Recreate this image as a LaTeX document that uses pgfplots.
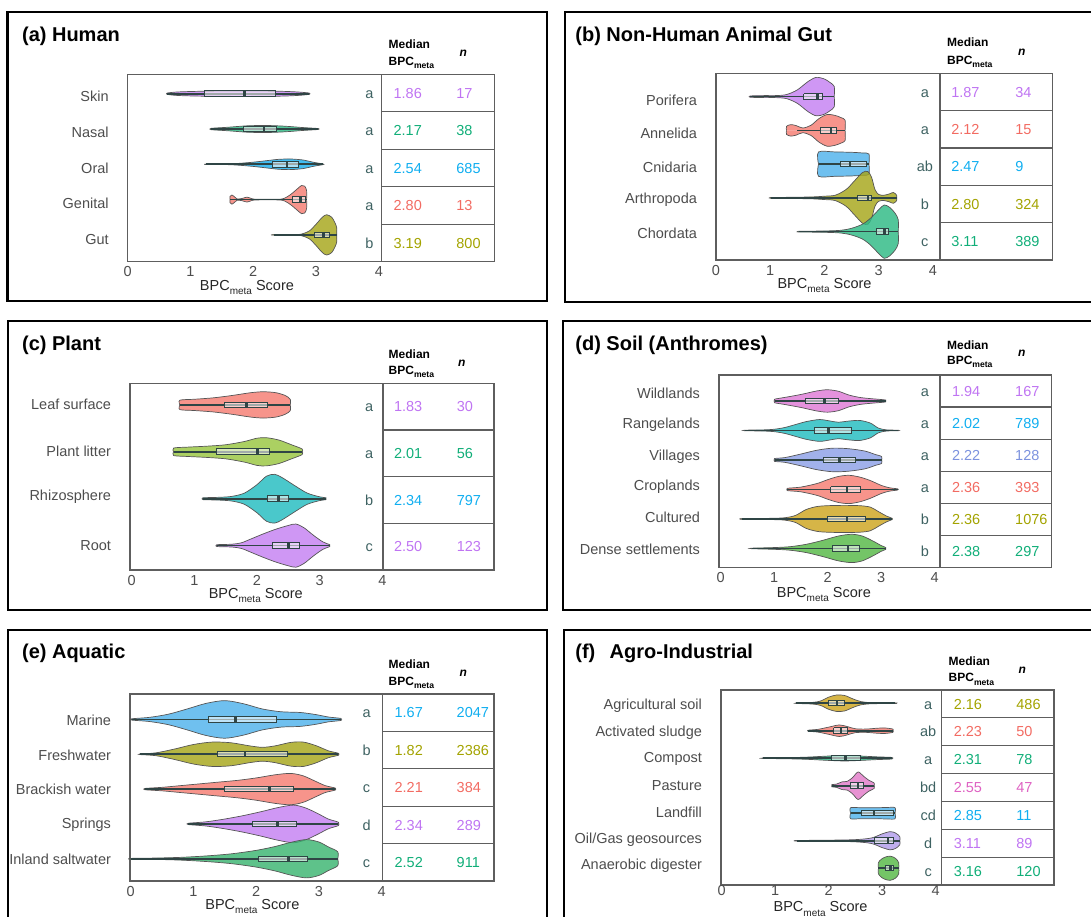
\documentclass[border=0pt]{standalone}
\usepackage{fontspec}
\setmainfont{Liberation Sans}
\usepackage{pgfplots}
\pgfplotsset{compat=1.18}

\definecolor{axgray}{HTML}{5E5E5E}
\definecolor{labgray}{HTML}{4D4D4D}
\definecolor{lettc}{HTML}{3E6262}
\definecolor{vedge}{HTML}{555555}
\definecolor{boxcol}{HTML}{2F4545}
% text colours
\definecolor{tPurple}{HTML}{BF74F2}
\definecolor{tGreen}{HTML}{10AE78}
\definecolor{tBlue}{HTML}{10AEF0}
\definecolor{tRed}{HTML}{F26B62}
\definecolor{tOlive}{HTML}{A3A300}
\definecolor{tPeri}{HTML}{7C92DE}
\definecolor{tMag}{HTML}{DE62C2}
% fills
\definecolor{fPurple}{HTML}{C580F2}
\definecolor{fGreen}{HTML}{2DBA84}
\definecolor{fBlue}{HTML}{1AAEEE}
\definecolor{fBlue2}{HTML}{4FB2EC}
\definecolor{fRed}{HTML}{F57C72}
\definecolor{fOlive}{HTML}{A6A61A}
\definecolor{fTeal}{HTML}{22BCC0}
\definecolor{fLime}{HTML}{98C640}
\definecolor{fPink}{HTML}{DE7AD6}
\definecolor{fPeri}{HTML}{8CA0E6}
\definecolor{fGold}{HTML}{CDA51E}
\definecolor{fGreen2}{HTML}{55B845}
\definecolor{fGreenE}{HTML}{3AB470}
\definecolor{fPink2}{HTML}{E27AC8}
\definecolor{fLav}{HTML}{B19CEA}

\newcommand\fs[1]{\fontsize{#1}{#1}\selectfont}
\newcommand\sub[2]{\raisebox{-0.3em}{\fs{#1}#2}}

\pgfplotsset{
  panel/.style={
    anchor=north west, scale only axis, y dir=reverse, clip=false,
    axis line style={draw=axgray, line width=0.6pt},
    tick style={draw=none}, major tick length=0pt,
    xtick={0,1,2,3,4}, xticklabels={0,1,2,3,4},
    ticklabel style={font=\fs{7.25}, text=labgray},
    xticklabel style={yshift=1pt},
    yticklabel style={xshift=-6pt},
  },
}
\tikzset{tline/.style={draw=axgray, line width=0.6pt}}

% centre, colour, first x, last x, rows "x w"
\newcommand\violin[5]{%
  \addplot[fill=#2, fill opacity=0.82, draw=vedge, line width=0.35pt, smooth, tension=0.5] table[row sep=crcr, x=x, y expr={#1-\thisrow{w}}] {x w\\#3 0\\#5\\#4 0\\};
  \addplot[fill=#2, fill opacity=0.82, draw=vedge, line width=0.35pt, smooth, tension=0.5] table[row sep=crcr, x=x, y expr={#1+\thisrow{w}}] {x w\\#3 0\\#5\\#4 0\\};
}
% centre, lower whisker, lower quartile, median, upper quartile, upper whisker
\newcommand\bx[6]{%
  \addplot[draw=boxcol, line width=0.8pt] table[row sep=crcr, x=x, y expr={#1}] {x\\#2\\#6\\};
  \addplot[draw=boxcol, fill=white, fill opacity=0.55, line width=0.5pt] table[row sep=crcr, x=x, y expr={#1+\thisrow{o}*\bh}] {x o\\#3 -1\\#5 -1\\#5 1\\#3 1\\#3 -1\\};
  \addplot[draw=boxcol, line width=1.3pt] table[row sep=crcr, x=x, y expr={#1+\thisrow{o}*\bh}] {x o\\#4 -1\\#4 1\\};
}
\newcommand\hl[1]{\draw[tline] (axis cs:\dx,#1) -- (axis cs:\xr,#1);}
\newcommand\vdiv{\draw[tline] (axis cs:\dx,\ya) -- (axis cs:\dx,\yb);}
\newcommand\trow[5]{%
  \node[anchor=base, inner sep=0pt, font=\fs{7.25}, text=lettc, yshift=-2.6pt] at (axis cs:\lx,#1) {#3};
  \node[anchor=base west, inner sep=0pt, font=\fs{7.25}, text=#2, yshift=-2.6pt] at (axis cs:\mx,#1) {#4};
  \node[anchor=base west, inner sep=0pt, font=\fs{7.25}, text=#2, yshift=-2.6pt] at (axis cs:\nx,#1) {#5};}
\newcommand\xlab[2]{\node[anchor=base, inner sep=0pt, font=\fs{7.25}, text=black!85, yshift=#2] at (axis cs:#1,\yb) {BPC\sub{5}{meta} Score};}
\newcommand\header[4]{% left x, median baseline, bpc baseline, n x
  \node[anchor=base west, inner sep=0pt, font=\bfseries\fs{6}] at (#1,#2) {Median};
  \node[anchor=base west, inner sep=0pt, font=\bfseries\fs{6}] at (#1,#3) {BPC\sub{4.3}{meta}};
  \node[anchor=base, inner sep=0pt, font=\bfseries\itshape\fs{6}] at (#4,{(#2+#3)/2}) {n};}
\newcommand\ttl[3]{\node[anchor=base west, inner sep=0pt, font=\bfseries\fs{10}] at (#1,#2) {#3};}

\begin{document}
\begin{tikzpicture}[x=0.5pt,y=-0.5pt]
\useasboundingbox (0,0) rectangle (1091,916);

% ---------------- (a) Human
\def\dx{4.045}\def\xr{5.84}\def\ya{0.45}\def\yb{5.76}\def\lx{3.85}\def\mx{4.23}\def\nx{5.23}\def\bh{0.08}
\begin{axis}[panel, at={(63.85pt,-37.15pt)}, width=183.3pt, height=93.7pt,
  xmin=0, xmax=5.84, ymin=0.45, ymax=5.76,
  ytick={1.065,2.10,3.11,4.10,5.14}, yticklabels={Skin,Nasal,Oral,Genital,Gut}]
\violin{1}{fPurple}{0.63}{2.89}{0.63 0.02\\0.8 0.05\\1.2 0.07\\1.8 0.075\\2.4 0.07\\2.7 0.05\\2.89 0.02}
\violin{2}{fGreen}{1.33}{3.03}{1.33 0.02\\1.6 0.05\\1.9 0.09\\2.2 0.1\\2.5 0.08\\2.8 0.04\\3.03 0.015}
\violin{3}{fBlue}{1.24}{3.11}{1.24 0.005\\1.6 0.01\\1.8 0.03\\2.0 0.06\\2.2 0.1\\2.4 0.14\\2.6 0.15\\2.8 0.12\\2.95 0.06\\3.11 0.01}
\violin{4}{fRed}{1.63}{2.85}{1.63 0.09\\1.66 0.13\\1.7 0.08\\1.74 0.02\\1.82 0.03\\1.9 0.07\\1.97 0.03\\2.05 0.01\\2.4 0.01\\2.5 0.04\\2.6 0.15\\2.7 0.3\\2.77 0.4\\2.82 0.38\\2.85 0.25}
\violin{5}{fOlive}{2.33}{3.33}{2.33 0.005\\2.7 0.01\\2.8 0.04\\2.9 0.12\\3.0 0.3\\3.1 0.5\\3.17 0.57\\3.25 0.5\\3.3 0.35\\3.33 0.2}
\bx{1}{0.63}{1.22}{1.86}{2.36}{2.89}
\bx{2}{1.33}{1.85}{2.17}{2.37}{3.03}
\bx{3}{1.24}{2.31}{2.54}{2.72}{3.11}
\bx{4}{1.63}{2.62}{2.75}{2.84}{2.85}
\bx{5}{2.33}{2.98}{3.12}{3.22}{3.33}
\vdiv \hl{1.512}\hl{2.574}\hl{3.636}\hl{4.698}
\trow{0.981}{tPurple}{a}{1.86}{17}
\trow{2.043}{tGreen}{a}{2.17}{38}
\trow{3.105}{tBlue}{a}{2.54}{685}
\trow{4.167}{tRed}{a}{2.80}{13}
\trow{5.229}{tOlive}{b}{3.19}{800}
\xlab{1.9}{-14.2pt}
\end{axis}
\ttl{21.7}{41.7}{(a) Human}
\header{388.3}{48.3}{65}{463.3}

% ---------------- (b) Non-Human Animal Gut
\def\dx{4.13}\def\xr{6.2}\def\ya{0.31}\def\yb{5.84}\def\lx{3.85}\def\mx{4.33}\def\nx{5.51}\def\bh{0.085}
\begin{axis}[panel, at={(358pt,-36.65pt)}, width=168.15pt, height=93.35pt,
  xmin=0, xmax=6.2, ymin=0.31, ymax=5.84,
  ytick={1.10,2.08,3.08,4.06,5.04}, yticklabels={Porifera,Annelida,Cnidaria,Arthropoda,Chordata}]
\violin{1}{fPurple}{0.63}{2.18}{0.63 0.02\\0.9 0.03\\1.1 0.03\\1.3 0.06\\1.5 0.2\\1.7 0.45\\1.85 0.57\\2.0 0.52\\2.1 0.42\\2.18 0.3}
\violin{2}{fRed}{1.3}{2.38}{1.3 0.12\\1.38 0.17\\1.48 0.14\\1.6 0.07\\1.75 0.15\\1.9 0.35\\2.05 0.47\\2.2 0.44\\2.3 0.38\\2.38 0.3}
\violin{3}{fBlue2}{1.89}{2.82}{1.89 0.36\\2.2 0.36\\2.5 0.35\\2.7 0.33\\2.82 0.3}
\violin{4}{fOlive}{1.02}{3.33}{1.02 0.01\\1.5 0.02\\1.8 0.03\\2.0 0.05\\2.2 0.08\\2.4 0.25\\2.55 0.5\\2.7 0.75\\2.8 0.78\\2.87 0.6\\2.93 0.25\\3.0 0.1\\3.1 0.08\\3.2 0.12\\3.27 0.16\\3.33 0.08}
\violin{5}{fGreen}{1.53}{3.36}{1.53 0.01\\2.0 0.02\\2.3 0.04\\2.5 0.1\\2.7 0.22\\2.85 0.4\\3.0 0.65\\3.1 0.79\\3.2 0.72\\3.3 0.55\\3.36 0.35}
\bx{1}{0.63}{1.62}{1.87}{1.96}{2.18}
\bx{2}{1.49}{1.92}{2.12}{2.22}{2.38}
\bx{3}{1.89}{2.3}{2.47}{2.78}{2.82}
\bx{4}{1.02}{2.6}{2.8}{2.87}{3.33}
\bx{5}{1.53}{2.95}{3.11}{3.18}{3.36}
\vdiv \hl{1.416}\hl{2.522}\hl{3.628}\hl{4.734}
\trow{0.863}{tPurple}{a}{1.87}{34}
\trow{1.969}{tRed}{a}{2.12}{15}
\trow{3.075}{tBlue}{ab}{2.47}{9}
\trow{4.181}{tOlive}{b}{2.80}{324}
\trow{5.287}{tGreen}{c}{3.11}{389}
\xlab{2.0}{-14.2pt}
\end{axis}
\ttl{575}{41.7}{(b) Non-Human Animal Gut}
\header{946.7}{46.7}{64}{1021.7}

% ---------------- (c) Plant
\def\dx{4.01}\def\xr{5.78}\def\ya{0.54}\def\yb{4.52}\def\lx{3.79}\def\mx{4.18}\def\nx{5.18}\def\bh{0.06}
\begin{axis}[panel, at={(65pt,-191.65pt)}, width=182pt, height=93.35pt,
  xmin=-0.026, xmax=5.78, ymin=0.54, ymax=4.52,
  ytick={0.99,1.98,2.96,3.99}, yticklabels={Leaf surface,Plant litter,Rhizosphere,Root}]
\violin{1}{fRed}{0.77}{2.53}{0.77 0.1\\1.0 0.12\\1.3 0.15\\1.6 0.2\\1.9 0.26\\2.1 0.28\\2.3 0.26\\2.45 0.2\\2.53 0.12}
\violin{2}{fLime}{0.67}{2.72}{0.67 0.08\\0.9 0.1\\1.2 0.12\\1.5 0.15\\1.8 0.22\\2.0 0.29\\2.15 0.3\\2.35 0.25\\2.55 0.15\\2.72 0.06}
\violin{3}{fTeal}{1.14}{3.1}{1.14 0.02\\1.4 0.03\\1.6 0.05\\1.8 0.12\\2.0 0.3\\2.15 0.48\\2.28 0.52\\2.4 0.45\\2.6 0.28\\2.8 0.12\\3.0 0.04\\3.1 0.02}
\violin{4}{fPurple}{1.36}{3.16}{1.36 0.02\\1.6 0.03\\1.75 0.06\\1.9 0.14\\2.1 0.25\\2.3 0.35\\2.5 0.43\\2.62 0.46\\2.75 0.38\\2.9 0.22\\3.05 0.08\\3.16 0.02}
\bx{1}{0.77}{1.48}{1.83}{2.16}{2.53}
\bx{2}{0.67}{1.35}{2.01}{2.2}{2.72}
\bx{3}{1.14}{2.16}{2.34}{2.51}{3.1}
\bx{4}{1.36}{2.24}{2.5}{2.67}{3.16}
\vdiv \hl{1.535}\hl{2.53}\hl{3.525}
\trow{1.0375}{tPurple}{a}{1.83}{30}
\trow{2.0325}{tGreen}{a}{2.01}{56}
\trow{3.0275}{tBlue}{b}{2.34}{797}
\trow{4.0225}{tPurple}{c}{2.50}{123}
\xlab{1.98}{-14.2pt}
\end{axis}
\ttl{21.7}{350}{(c) Plant}
\header{388.3}{358.3}{374.3}{461.7}

% ---------------- (d) Soil (Anthromes)
\def\dx{4.1}\def\xr{6.19}\def\ya{0.12}\def\yb{6.64}\def\lx{3.82}\def\mx{4.32}\def\nx{5.5}\def\bh{0.095}
\begin{axis}[panel, at={(359.5pt,-187.5pt)}, width=166.35pt, height=96.15pt,
  xmin=-0.03, xmax=6.19, ymin=0.12, ymax=6.64,
  ytick={0.74,1.815,2.89,3.91,4.96,6.03}, yticklabels={Wildlands,Rangelands,Villages,Croplands,Cultured,Dense settlements}]
\violin{1}{fPink}{1.01}{3.09}{1.01 0.06\\1.2 0.12\\1.5 0.22\\1.8 0.34\\2.0 0.38\\2.2 0.33\\2.4 0.2\\2.6 0.12\\2.8 0.08\\3.0 0.05\\3.09 0.03}
\violin{2}{fTeal}{0.45}{3.32}{0.45 0.01\\0.8 0.02\\1.0 0.04\\1.2 0.1\\1.4 0.2\\1.6 0.3\\1.85 0.37\\2.05 0.32\\2.2 0.28\\2.4 0.32\\2.6 0.34\\2.8 0.25\\2.95 0.08\\3.1 0.02\\3.32 0.01}
\violin{3}{fPeri}{1.01}{3.01}{1.01 0.05\\1.2 0.08\\1.5 0.2\\1.8 0.33\\2.1 0.4\\2.4 0.38\\2.7 0.3\\2.9 0.18\\3.01 0.12}
\violin{4}{fRed}{1.25}{3.31}{1.25 0.04\\1.5 0.08\\1.8 0.2\\2.0 0.33\\2.2 0.44\\2.4 0.48\\2.6 0.42\\2.8 0.3\\3.0 0.14\\3.15 0.06\\3.31 0.02}
\violin{5}{fGold}{0.4}{3.21}{0.4 0.01\\0.9 0.02\\1.2 0.04\\1.4 0.12\\1.6 0.32\\1.8 0.42\\2.0 0.45\\2.3 0.46\\2.6 0.45\\2.8 0.4\\2.95 0.25\\3.1 0.1\\3.21 0.02}
\violin{6}{fGreen2}{0.58}{3.09}{0.58 0.01\\1.0 0.03\\1.3 0.06\\1.6 0.14\\1.9 0.27\\2.2 0.42\\2.45 0.48\\2.65 0.42\\2.85 0.25\\3.0 0.1\\3.09 0.03}
\bx{1}{1.01}{1.58}{1.94}{2.2}{3.09}
\bx{2}{0.45}{1.75}{2.02}{2.45}{3.32}
\bx{3}{1.01}{1.92}{2.22}{2.52}{3.01}
\bx{4}{1.25}{2.06}{2.36}{2.62}{3.31}
\bx{5}{0.4}{2.0}{2.36}{2.71}{3.21}
\bx{6}{0.58}{2.09}{2.38}{2.6}{3.09}
\vdiv \hl{1.207}\hl{2.293}\hl{3.38}\hl{4.467}\hl{5.553}
\trow{0.663}{tPurple}{a}{1.94}{167}
\trow{1.75}{tBlue}{a}{2.02}{789}
\trow{2.837}{tPeri}{a}{2.22}{128}
\trow{3.923}{tRed}{a}{2.36}{393}
\trow{5.01}{tOlive}{b}{2.36}{1076}
\trow{6.097}{tGreen}{b}{2.38}{297}
\xlab{1.93}{-15pt}
\end{axis}
\ttl{575}{350}{(d) Soil (Anthromes)}
\header{946.7}{349}{364.3}{1021.7}

% ---------------- (e) Aquatic
\def\dx{4.01}\def\xr{5.79}\def\ya{0.27}\def\yb{5.64}\def\lx{3.76}\def\mx{4.2}\def\nx{5.19}\def\bh{0.075}
\begin{axis}[panel, at={(65pt,-347pt)}, width=182pt, height=93.5pt,
  xmin=-0.01, xmax=5.79, ymin=0.27, ymax=5.64,
  ytick={1.02,2.02,3.02,4.03,5.01}, yticklabels={Marine,Freshwater,Brackish water,Springs,Inland saltwater}]
\violin{1}{fBlue2}{0.02}{3.35}{0.02 0.02\\0.3 0.06\\0.6 0.15\\0.9 0.3\\1.2 0.46\\1.5 0.54\\1.8 0.45\\2.1 0.3\\2.4 0.22\\2.7 0.2\\2.95 0.14\\3.15 0.07\\3.35 0.03}
\violin{2}{fOlive}{0.15}{3.31}{0.15 0.01\\0.4 0.04\\0.7 0.15\\1.0 0.28\\1.3 0.35\\1.6 0.33\\1.9 0.24\\2.1 0.2\\2.3 0.24\\2.55 0.34\\2.75 0.35\\2.95 0.25\\3.15 0.1\\3.31 0.03}
\violin{3}{fRed}{0.23}{3.26}{0.23 0.02\\0.5 0.05\\0.8 0.1\\1.1 0.15\\1.4 0.2\\1.7 0.25\\2.0 0.32\\2.3 0.41\\2.55 0.45\\2.75 0.38\\2.95 0.22\\3.1 0.1\\3.26 0.03}
\violin{4}{fPurple}{0.92}{3.31}{0.92 0.02\\1.2 0.06\\1.5 0.14\\1.8 0.24\\2.1 0.36\\2.35 0.47\\2.6 0.54\\2.8 0.45\\3.0 0.28\\3.15 0.14\\3.31 0.05}
\violin{5}{fGreenE}{0.0}{3.3}{0.0 0.01\\0.4 0.02\\0.8 0.04\\1.2 0.08\\1.6 0.14\\2.0 0.24\\2.3 0.35\\2.55 0.47\\2.8 0.55\\3.0 0.48\\3.15 0.34\\3.3 0.2}
\bx{1}{0.02}{1.24}{1.67}{2.32}{3.35}
\bx{2}{0.15}{1.38}{1.82}{2.5}{3.31}
\bx{3}{0.23}{1.49}{2.21}{2.59}{3.26}
\bx{4}{0.92}{1.94}{2.34}{2.65}{3.31}
\bx{5}{0.0}{2.03}{2.52}{2.82}{3.3}
\vdiv \hl{1.344}\hl{2.418}\hl{3.492}\hl{4.566}
\trow{0.807}{tBlue}{a}{1.67}{2047}
\trow{1.881}{tOlive}{b}{1.82}{2386}
\trow{2.955}{tRed}{c}{2.21}{384}
\trow{4.029}{tPurple}{d}{2.34}{289}
\trow{5.103}{tGreen}{c}{2.52}{911}
\xlab{1.94}{-14.2pt}
\end{axis}
\ttl{21.7}{658.3}{(e) Aquatic}
\header{388.3}{668.3}{685}{463.3}

% ---------------- (f) Agro-Industrial
\def\dx{4.11}\def\xr{6.21}\def\ya{0.52}\def\yb{7.61}\def\lx{3.86}\def\mx{4.33}\def\nx{5.5}\def\bh{0.1}
\begin{axis}[panel, at={(360.5pt,-345pt)}, width=166.5pt, height=97.5pt,
  xmin=-0.01, xmax=6.21, ymin=0.52, ymax=7.61, xticklabel style={yshift=2.5pt},
  ytick={1.1,2.07,3.04,4.0,4.98,5.97,6.92}, yticklabels={Agricultural soil,Activated sludge,Compost,Pasture,Landfill,Oil/Gas geosources,Anaerobic digester}]
\violin{1}{fGold}{1.4}{3.24}{1.4 0.01\\1.7 0.03\\1.85 0.08\\2.0 0.22\\2.15 0.3\\2.3 0.28\\2.45 0.16\\2.6 0.06\\2.8 0.02\\3.24 0.01}
\violin{2}{fRed}{1.62}{3.2}{1.62 0.02\\1.8 0.05\\2.0 0.13\\2.2 0.21\\2.35 0.15\\2.5 0.07\\2.7 0.06\\2.9 0.09\\3.05 0.1\\3.2 0.06}
\violin{3}{fGreen}{0.78}{3.18}{0.78 0.01\\1.2 0.02\\1.6 0.04\\2.0 0.08\\2.3 0.1\\2.6 0.08\\2.9 0.05\\3.18 0.03}
\violin{4}{fPink2}{2.06}{2.85}{2.06 0.04\\2.15 0.06\\2.25 0.14\\2.35 0.16\\2.45 0.3\\2.55 0.5\\2.65 0.35\\2.75 0.2\\2.85 0.1}
\violin{5}{fBlue2}{2.41}{3.24}{2.41 0.2\\2.6 0.2\\2.9 0.2\\3.1 0.21\\3.24 0.2}
\violin{6}{fLav}{1.41}{3.33}{1.41 0.01\\2.0 0.02\\2.5 0.04\\2.8 0.1\\3.0 0.25\\3.15 0.33\\3.25 0.28\\3.33 0.15}
\violin{7}{fGreen2}{2.93}{3.31}{2.93 0.2\\2.98 0.32\\3.05 0.4\\3.15 0.44\\3.25 0.36\\3.31 0.2}
\bx{1}{1.4}{2.0}{2.16}{2.3}{3.24}
\bx{2}{1.62}{2.1}{2.23}{2.35}{3.2}
\bx{3}{0.78}{2.05}{2.31}{2.6}{3.18}
\bx{4}{2.06}{2.4}{2.55}{2.65}{2.85}
\bx{5}{2.41}{2.62}{2.85}{3.22}{3.24}
\bx{6}{1.41}{2.85}{3.11}{3.22}{3.33}
\bx{7}{2.93}{3.06}{3.16}{3.22}{3.31}
\vdiv \hl{1.533}\hl{2.546}\hl{3.559}\hl{4.571}\hl{5.584}\hl{6.597}
\trow{1.026}{tOlive}{a}{2.16}{486}
\trow{2.039}{tRed}{ab}{2.23}{50}
\trow{3.052}{tGreen}{a}{2.31}{78}
\trow{4.065}{tMag}{bd}{2.55}{47}
\trow{5.078}{tBlue}{cd}{2.85}{11}
\trow{6.091}{tPurple}{d}{3.11}{89}
\trow{7.104}{tGreen}{c}{3.16}{120}
\xlab{1.85}{-13.4pt}
\end{axis}
\ttl{575}{658.3}{(f)}
\ttl{609.3}{658.3}{Agro-Industrial}
\header{948.3}{665}{681.7}{1022.3}

% ---------------- panel frames
\draw[line width=1.3pt] (7.5,12) rectangle (547,301);
\draw[line width=1.3pt] (565,12) rectangle (1100,302);
\draw[line width=1.3pt] (8,321) rectangle (547,610);
\draw[line width=1.3pt] (563,321) rectangle (1100,610);
\draw[line width=1.3pt] (8,930) -- (8,630) -- (547,630) -- (547,930);
\draw[line width=1.3pt] (564,930) -- (564,630) -- (1100,630);
\end{tikzpicture}
\end{document}
